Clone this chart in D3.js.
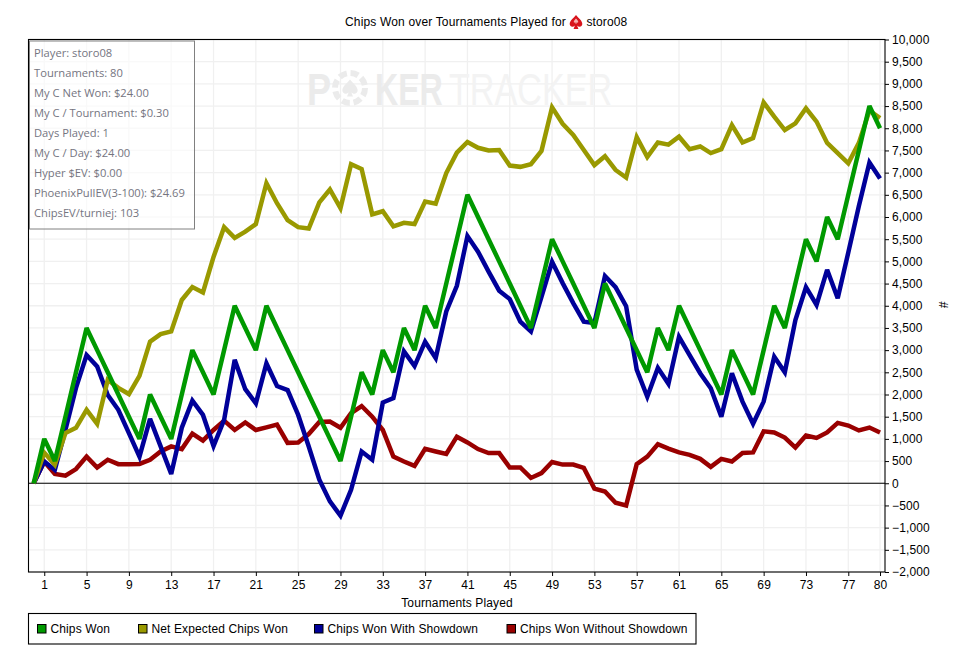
<!DOCTYPE html>
<html><head><meta charset="utf-8">
<script src="https://cdnjs.cloudflare.com/ajax/libs/d3/7.8.5/d3.min.js"></script>
<style>html,body{margin:0;padding:0;background:#fff}svg{display:block}
.ui{font-family:"Liberation Sans",Arial,sans-serif;font-size:12px;fill:#000;letter-spacing:.12px}
.info{font-family:"Open Sans","Noto Sans",sans-serif;font-size:11.2px;fill:#75757f}
.wm{font-family:"Liberation Sans",Arial,sans-serif;font-size:44px}
</style></head><body><div id="c"></div>
<script>
const title = "Chips Won over Tournaments Played for";
const player = "storo08";
const xTicks = [1,5,9,13,17,21,25,29,33,37,41,45,49,53,57,61,65,69,73,77,80];
const yTicks = [-2000,-1500,-1000,-500,0,500,1000,1500,2000,2500,3000,3500,4000,4500,5000,5500,6000,6500,7000,7500,8000,8500,9000,9500,10000];
const infoLines = ["Player: storo08","Tournaments: 80","My C Net Won: $24.00","My C / Tournament: $0.30","Days Played: 1","My C / Day: $24.00","Hyper $EV: $0.00","PhoenixPullEV(3-100): $24.69","ChipsEV/turniej: 103"];
const chipsWon = [0,1000,500,1500,2500,3500,3000,2500,2000,1500,1000,2000,1500,1000,2000,3000,2500,2000,3000,4000,3500,3000,4000,3500,3000,2500,2000,1500,1000,500,1500,2500,2000,3000,2500,3500,3000,4000,3500,4500,5500,6500,6000,5500,5000,4500,4000,3500,4500,5500,5000,4500,4000,3500,4500,4000,3500,3000,2500,3500,3000,4000,3500,3000,2500,2000,3000,2500,2000,3000,4000,3500,4500,5500,5000,6000,5500,6500,7500,8500,8000];
const netExpected = [0,690,415,1130,1250,1655,1340,2330,2150,2010,2420,3190,3360,3420,4130,4420,4300,5100,5770,5530,5670,5840,6760,6310,5930,5770,5740,6330,6620,6200,7190,7080,6060,6130,5790,5870,5840,6350,6300,6990,7450,7690,7560,7500,7510,7160,7130,7190,7490,8470,8100,7850,7510,7170,7370,7060,6890,7800,7350,7680,7630,7810,7530,7590,7440,7530,8070,7680,7780,8580,8260,7960,8110,8450,8150,7670,7440,7210,7670,8400,8230];
const withShowdown = [0,490,300,1200,2150,2890,2630,1990,1655,1130,600,1450,830,210,1250,1860,1540,840,1430,2780,2120,1800,2700,2190,2100,1540,830,80,-410,-730,-146,716,530,1820,1920,2970,2640,3190,2820,3870,4450,5570,5220,4770,4340,4150,3640,3420,4200,4990,4510,4060,3640,3610,4670,4420,3990,2560,1950,2600,2240,3300,2890,2480,2140,1500,2480,1840,1340,1840,2850,2500,3680,4420,4020,4810,4170,5200,6250,7230,6870];
const withoutShowdown = [0,490,210,170,320,600,355,530,430,430,435,530,715,830,770,1120,960,1200,1410,1200,1370,1200,1260,1320,910,920,1110,1380,1390,1250,1580,1740,1500,1200,600,490,390,775,715,660,1050,920,770,680,680,355,355,120,230,480,420,420,345,-120,-185,-440,-500,430,600,880,780,695,640,550,370,550,490,680,695,1170,1145,1030,805,1075,1020,1145,1360,1300,1190,1255,1145];
const seriesNames = ["Chips Won","Net Expected Chips Won","Chips Won With Showdown","Chips Won Without Showdown"];
const seriesColors = ["#009900","#999900","#000099","#990000"];
const seriesValues = [chipsWon,netExpected,withShowdown,withoutShowdown];
const drawOrder = [3,2,1,0];
const legendX = [37,138,314,506.5];

const W=965,H=657,L=28.5,R=885,T=39.5,B=572;
const x=d3.scaleLinear().domain([-0.49,80.47]).range([L,R]);
const y=d3.scaleLinear().domain([-2000,10000]).range([B,T]);
const svg=d3.select("#c").append("svg").attr("width",W).attr("height",H).attr("viewBox",`0 0 ${W} ${H}`);

// grid
const g=svg.append("g");
g.selectAll(".gy").data(yTicks).join("line").attr("x1",L).attr("x2",R).attr("y1",d=>y(d)).attr("y2",d=>y(d)).attr("stroke","#f0f0f0").attr("stroke-width",1.3);
g.selectAll(".gx").data(xTicks).join("line").attr("y1",T).attr("y2",B).attr("x1",d=>x(d)).attr("x2",d=>x(d)).attr("stroke","#f0f0f0").attr("stroke-width",1.3);

// watermark
const wm=svg.append("g");
wm.append("text").attr("class","wm").attr("transform","translate(307,105) scale(.82,1)").attr("font-weight","bold").attr("fill","#ebebeb").text("P");
wm.append("text").attr("class","wm").attr("transform","translate(375,105) scale(.73,1)").attr("font-weight","bold").attr("fill","#ebebeb").text("KER");
wm.append("text").attr("class","wm").attr("transform","translate(449,105) scale(.776,1)").attr("fill","#f3f3f3").text("TRACKER");
wm.append("circle").attr("cx",350).attr("cy",88).attr("r",15).attr("fill","none").attr("stroke","#ebebeb").attr("stroke-width",6).attr("stroke-dasharray","8 3.8");
wm.append("path").attr("transform","translate(350,88) scale(0.85)").attr("d","M0,-10 C4,-5 9,-2 9,3 C9,7 4,8 1.5,5 L3.5,10 L-3.5,10 L-1.5,5 C-4,8 -9,7 -9,3 C-9,-2 -4,-5 0,-10Z").attr("fill","#ebebeb");

// zero line
svg.append("line").attr("x1",L).attr("x2",R).attr("y1",y(0)).attr("y2",y(0)).attr("stroke","#000").attr("stroke-width",1);

// series
const line=d3.line().x((d,i)=>x(i)).y(d=>y(d)).curve(d3.curveLinear);
svg.append("g").selectAll("path").data(drawOrder).join("path")
  .attr("d",k=>line(seriesValues[k])).attr("fill","none").attr("stroke",k=>seriesColors[k])
  .attr("stroke-width",4.5).attr("stroke-linejoin","miter").attr("stroke-miterlimit",3);

// frame
svg.append("rect").attr("x",L).attr("y",T).attr("width",R-L).attr("height",B-T).attr("fill","none").attr("stroke","#000").attr("stroke-width",1.1);

// axes
const ax=svg.append("g").attr("transform",`translate(0,${B})`).call(d3.axisBottom(x).tickValues(xTicks).tickFormat(d3.format("d")).tickSize(4).tickPadding(4));
const ay=svg.append("g").attr("transform",`translate(${R},0)`).call(d3.axisRight(y).tickValues(yTicks).tickFormat(d3.format(",")).tickSize(4).tickPadding(3));
[ax,ay].forEach(a=>{a.select(".domain").remove();a.selectAll("text").attr("class","ui").attr("font-family",null).attr("font-size",null);a.selectAll("line").attr("stroke","#000");});

// titles
svg.append("text").attr("class","ui").attr("x",345).attr("y",26).style("letter-spacing",".16px").text(title);
const spade=svg.append("g").attr("transform","translate(576,22)");
spade.append("path").attr("transform","scale(0.7)").attr("d","M0,-10 C4,-5 9,-2 9,3 C9,7 4,8 1.5,5 L3.5,10 L-3.5,10 L-1.5,5 C-4,8 -9,7 -9,3 C-9,-2 -4,-5 0,-10Z").attr("fill","#d8141c");
spade.append("path").attr("transform","translate(0,-1) scale(0.25)").attr("d","M0,-10 C4,-5 9,-2 9,3 C9,7 4,8 1.5,5 L3.5,10 L-3.5,10 L-1.5,5 C-4,8 -9,7 -9,3 C-9,-2 -4,-5 0,-10Z").attr("fill","#f7b0b0");
svg.append("text").attr("class","ui").attr("x",586.5).attr("y",26).text(player);
svg.append("text").attr("class","ui").attr("x",457).attr("y",607).attr("text-anchor","middle").text("Tournaments Played");
svg.append("text").attr("class","ui").attr("transform","translate(939,305) rotate(90)").attr("text-anchor","middle").text("#");

// info box
svg.append("rect").attr("x",29.5).attr("y",41).attr("width",165).attr("height",188).attr("fill","#fff").attr("fill-opacity",.6).attr("stroke","#808080").attr("stroke-width",1);
svg.append("g").selectAll("text").data(infoLines).join("text").attr("class","info").attr("x",34).attr("y",(d,i)=>57+i*20).text(d=>d);

// legend
svg.append("rect").attr("x",L).attr("y",613.5).attr("width",667.5).attr("height",30.5).attr("fill","#fff").attr("stroke","#000").attr("stroke-width",1.1);
const lg=svg.append("g").selectAll("g").data(seriesNames).join("g").attr("transform",(d,i)=>`translate(${legendX[i]},624)`);
lg.append("rect").attr("x",.5).attr("y",.5).attr("width",8.5).attr("height",8.5).attr("fill",(d,i)=>seriesColors[i]).attr("stroke","#000");
lg.append("text").attr("class","ui").attr("x",13.5).attr("y",9).text(d=>d);
</script></body></html>
